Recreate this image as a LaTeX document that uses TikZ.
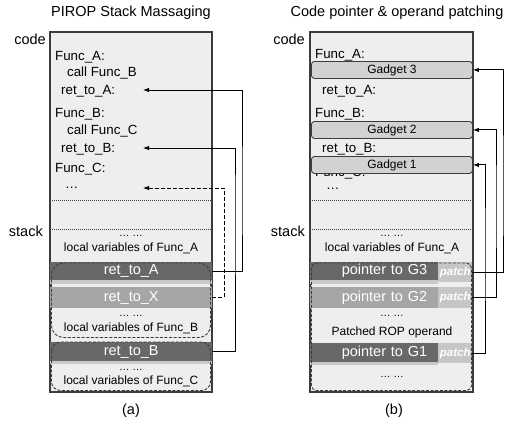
\documentclass[tikz,border=0pt]{standalone}
\usepackage{fontspec}
\setmainfont{Liberation Sans}
\usetikzlibrary{arrows.meta}
\definecolor{boxbg}{HTML}{EEEEEE}
\definecolor{boxline}{HTML}{3C3C3C}
\definecolor{darkband}{HTML}{686868}
\definecolor{midband}{HTML}{A6A6A6}
\definecolor{stripc}{HTML}{C9C9C9}
\definecolor{patchc}{HTML}{C6C6C6}
\definecolor{gadgetc}{HTML}{D2D2D2}
\begin{document}
\begin{tikzpicture}[x=1pt,y=-1pt,
  title/.style={font=\fontsize{14.5}{16}\selectfont, anchor=base, inner sep=0},
  side/.style={font=\fontsize{14.5}{16}\selectfont, anchor=base east, inner sep=0},
  codetxt/.style={font=\fontsize{13.3}{15}\selectfont, anchor=base west, inner sep=0},
  small/.style={font=\fontsize{12}{14}\selectfont, anchor=base, inner sep=0},
  dots/.style={font=\fontsize{10.5}{12}\selectfont, anchor=base, inner sep=0},
  memory/.style={draw=boxline, fill=boxbg, line width=1.2pt},
  sep/.style={draw=boxline, densely dotted, line width=1pt},
  bandbox/.style={inner sep=0, anchor=north west, text=white,
    font=\fontsize{14.5}{16}\selectfont},
  darkb/.style={bandbox, fill=darkband},
  midb/.style={bandbox, fill=midband},
  ptrtext/.style={text width=106pt, align=right},
  patchbox/.style={inner sep=0, anchor=north west, fill=patchc, text=white,
    minimum width=34pt, minimum height=20pt,
    font=\fontsize{11.5}{12}\selectfont\bfseries\itshape},
  frame/.style={draw=boxline, dashed, dash pattern=on 3pt off 1.6pt, line width=0.9pt,
    rounded corners=#1},
  gadget/.style={draw=boxline, fill=gadgetc, rounded corners=3pt, line width=0.9pt,
    minimum width=161pt, minimum height=17pt, inner sep=0, anchor=north west,
    font=\fontsize{12}{14}\selectfont},
  conn/.style={draw=black, line width=1pt, -{Latex[length=6pt,width=4.5pt]}}
]
\useasboundingbox (0,0) rectangle (505,420);

%% ---------------- (a) PIROP stack massaging ----------------
\node[title] (titleA) at (131,17) {PIROP Stack Massaging};
\draw[memory] (50,32) rectangle (212,392);
\node[side] (codeA) at (46,45) {code};
\node[side] (stackA) at (43,236) {stack};

\node[codetxt] (fa)  at (55,60)  {Func\_A:};
\node[codetxt] (cfb) at (67,76)  {call Func\_B};
\node[codetxt] (ra)  at (61,94)  {ret\_to\_A:};
\node[codetxt] (fb)  at (55,117) {Func\_B:};
\node[codetxt] (cfc) at (67,134) {call Func\_C};
\node[codetxt] (rb)  at (61,152) {ret\_to\_B:};
\node[codetxt] (fc)  at (55,172) {Func\_C:};
\node[codetxt] (ec)  at (65,188) {\dots};

\coordinate (tipA) at (143,90);
\coordinate (tipB) at (143,148);
\coordinate (tipC) at (143,188);

\draw[sep] (50,200) -- (212,200);
\draw[sep] (50,229) -- (212,229);
\node[dots]  (dA) at (131,236) {\dots\ \dots};
\node[small] (lvA) at (131,251) {local variables of Func\_A};

\node[darkb, minimum width=162pt, minimum height=18pt] (retA) at (50,262) {ret\_to\_A};
\fill[stripc] (50,280) rectangle (212,283.5);
\node[midb, minimum width=162pt, minimum height=21pt] (retX) at (50,287) {ret\_to\_X};
\node[dots]  (dB) at (131,316) {\dots\ \dots};
\node[small] (lvB) at (131,331) {local variables of Func\_B};
\node[darkb, minimum width=162pt, minimum height=19pt] (retB) at (50,342) {ret\_to\_B};
\fill[stripc] (50,361) rectangle (212,364);
\node[dots]  (dC) at (131,370) {\dots\ \dots};
\node[small] (lvC) at (131,384) {local variables of Func\_C};

\draw[frame=12pt] (51.5,263) rectangle (210.5,337.5);
\draw[frame=9pt] (51.5,342) rectangle (210.5,390.5);

\draw[conn] (retA.east) -| (242,200) |- (tipA);
\draw[conn] (retB.east) -| (235,200) |- (tipB);
\draw[conn, dashed, dash pattern=on 4pt off 2pt] (retX.east) -| (224,240) |- (tipC);

\node[title] (capA) at (131,414) {(a)};

%% ---------------- (b) code pointer & operand patching ----------------
\node[title] (titleB) at (397,17) {Code pointer \& operand patching};
\draw[memory] (310,32) rectangle (473,392);
\node[side] (codeB) at (305,45) {code};
\node[side] (stackB) at (305,236) {stack};

\node[codetxt] (fa2) at (315,59)  {Func\_A:};
\node[codetxt] (ra2) at (322,94)  {ret\_to\_A:};
\node[codetxt] (fb2) at (315,117) {Func\_B:};
\node[codetxt] (rb2) at (322,152) {ret\_to\_B:};
\node[codetxt] (fc2) at (315,176) {Func\_C:};
\node[codetxt] (ec2) at (326,189) {\dots};

\node[gadget] (g3) at (311,61)  {Gadget 3};
\node[gadget] (g2) at (311,121) {Gadget 2};
\node[gadget] (g1) at (311,156) {Gadget 1};

\draw[sep] (310,200) -- (473,200);
\draw[sep] (310,229) -- (473,229);
\node[dots]  (dA2) at (392,236) {\dots\ \dots};
\node[small] (lvA2) at (392,251) {local variables of Func\_A};

\node[darkb, ptrtext, minimum width=128pt, minimum height=18pt] (p3) at (310,262) {pointer to G3};
\fill[stripc] (310,280) rectangle (438,283.5);
\node[patchbox] (pt3) at (438,262) {patch};
\node[midb, ptrtext, minimum width=128pt, minimum height=21pt] (p2) at (310,287) {pointer to G2};
\node[patchbox, minimum height=21pt] (pt2) at (438,287) {patch};
\node[dots]  (dP) at (392,316) {\dots\ \dots};
\node[small] (rop) at (392,335) {Patched ROP operand};
\node[darkb, ptrtext, minimum width=128pt, minimum height=19pt] (p1) at (310,343) {pointer to G1};
\fill[stripc] (310,362) rectangle (438,365);
\node[patchbox] (pt1) at (438,343) {patch};
\node[dots]  (dE) at (392,377) {\dots\ \dots};

\draw[frame=5pt] (311.5,263) rectangle (471.5,390.5);

\draw[conn] (pt3.east) -| (503,200) |- (g3.east);
\draw[conn] (pt2.east) -| (496,200) |- (g2.east);
\draw[conn] (pt1.east) -| (485,250) |- (g1.east);

\node[title] (capB) at (394,414) {(b)};
\end{tikzpicture}
\end{document}
